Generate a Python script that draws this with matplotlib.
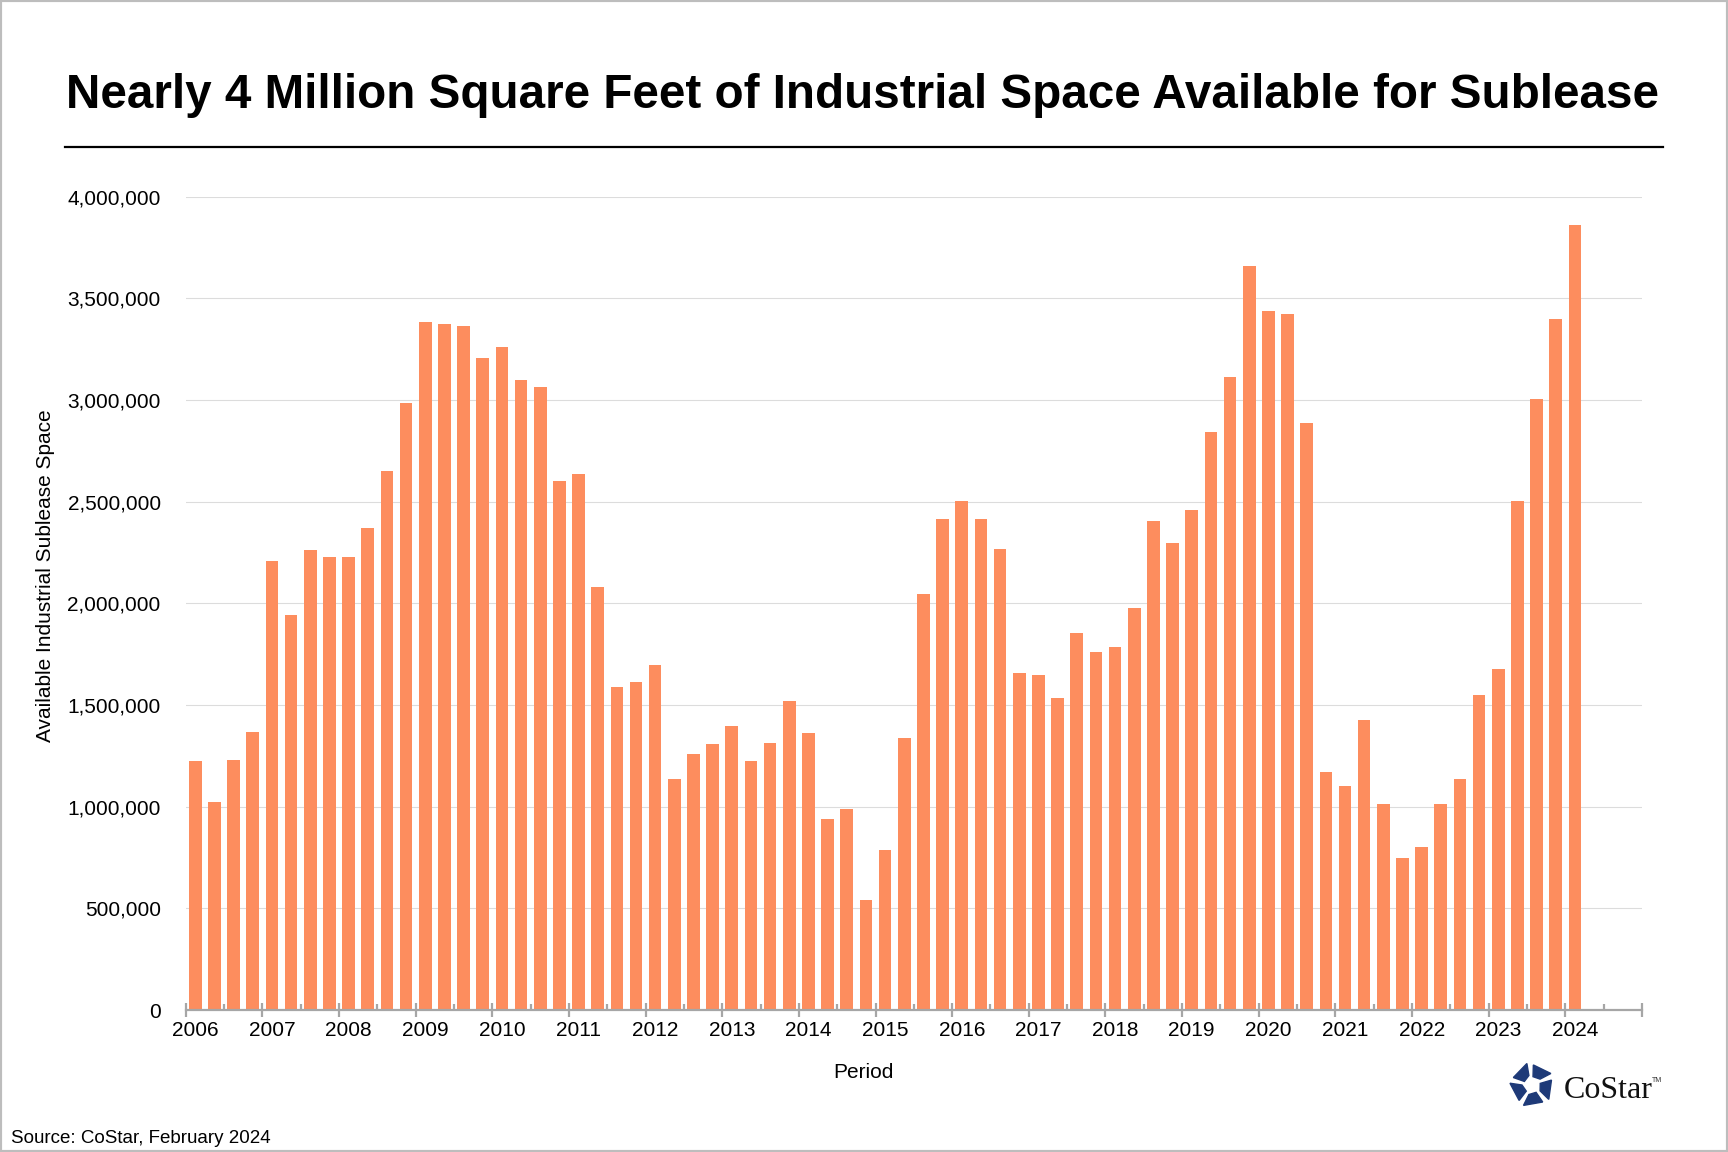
import matplotlib
matplotlib.use("Agg")
import matplotlib.pyplot as plt
from matplotlib.patches import Polygon, Rectangle
from matplotlib.lines import Line2D
from matplotlib.ticker import FuncFormatter, MultipleLocator
from matplotlib.transforms import ScaledTranslation
import numpy as np

plt.rcParams["font.family"] = ["Liberation Sans", "DejaVu Sans"]

# quarterly sublease availability, 2006 Q1 .. 2024 Q1
years = list(range(2006, 2025))
sublease_sf = [
    1227000, 1025000, 1232000, 1368000,
    2208000, 1944000, 2263000, 2230000,
    2230000, 2372000, 2650000, 2985000,
    3383000, 3372000, 3364000, 3206000,
    3260000, 3100000, 3064000, 2603000,
    2636000, 2080000, 1589000, 1614000,
    1698000, 1137000, 1257000, 1306000,
    1398000, 1227000, 1311000, 1521000,
    1363000, 940000, 987000, 542000,
    788000, 1336000, 2047000, 2415000,
    2502000, 2415000, 2268000, 1655000,
    1649000, 1535000, 1856000, 1761000,
    1783000, 1979000, 2404000, 2298000,
    2459000, 2843000, 3113000, 3658000,
    3437000, 3421000, 2887000, 1172000,
    1104000, 1428000, 1014000, 750000,
    804000, 1011000, 1137000, 1551000,
    1679000, 2502000, 3004000, 3397000,
    3860000,
]
periods = [(y, q) for y in years for q in range(4)][: len(sublease_sf)]

title = "Nearly 4 Million Square Feet of Industrial Space Available for Sublease"
bar_color = "#FD8D5E"
axis_gray = "#A6A6A6"

W, H = 1728, 1152
fig = plt.figure(figsize=(W / 100, H / 100), dpi=100)


def fx(px):
    return px / W


def fy(py):
    return 1 - py / H


ax = fig.add_axes([fx(185.7), fy(1010), fx(1642 - 185.7), (1010 - 196.7) / H])

# bars sit in the middle of their quarter
xs = [y + (q + 0.5) * 0.25 for y, q in periods]
ax.bar(xs, sublease_sf, width=0.165, color=bar_color, zorder=2)

ax.set_xlim(2006, 2025)
ax.set_ylim(0, 4000000)
ax.yaxis.set_major_locator(MultipleLocator(500000))
ax.yaxis.set_major_formatter(FuncFormatter(lambda v, _: f"{v:,.0f}"))
ax.grid(axis="y", color="#DCDCDC", linewidth=0.8, zorder=0)

ax.set_xticks(years + [2025])
ax.set_xticklabels([str(y) for y in years] + [""])
ax.xaxis.set_minor_locator(MultipleLocator(0.5))

for side in ["top", "right", "left"]:
    ax.spines[side].set_visible(False)
ax.spines["bottom"].set_color(axis_gray)
ax.spines["bottom"].set_linewidth(1.6)

ax.tick_params(axis="y", length=0, pad=18, labelsize=15, labelcolor="black")
ax.tick_params(axis="x", which="major", direction="inout", length=10, width=1.6,
               color=axis_gray, pad=3, labelsize=15)
ax.tick_params(axis="x", which="minor", direction="in", length=4, width=1.6,
               color=axis_gray)

# year labels line up with the first quarter bar
shift = ScaledTranslation(9.6 / 100, 0, fig.dpi_scale_trans)
for lab in ax.get_xticklabels():
    lab.set_transform(lab.get_transform() + shift)

fig.text(fx(862), fy(108), title, ha="center", va="baseline",
         fontsize=34.3, fontweight="bold")
fig.add_artist(Line2D([fx(65), fx(1663)], [fy(147), fy(147)],
                      color="black", linewidth=1.6))

fig.text(fx(46), fy(576), "Available Industrial Sublease Space", rotation=90,
         ha="center", va="center", fontsize=15)
fig.text(fx(863), fy(1072), "Period", ha="center", va="center", fontsize=15)
fig.text(fx(11), fy(1143), "Source: CoStar, February 2024", ha="left",
         va="baseline", fontsize=13.5)

# CoStar logo
lx, ly = 1532, 1085
lax = fig.add_axes([fx(lx - 30), fy(ly + 30), 60 / W, 60 / H])
lax.set_xlim(-1.5, 1.5)
lax.set_ylim(-1.5, 1.5)
lax.axis("off")
for i in range(5):
    a = np.deg2rad(100 + 72 * i)
    b = np.deg2rad(100 + 72 * (i + 1))
    v0 = 1.15 * np.array([np.cos(a), np.sin(a)])
    v1 = 1.15 * np.array([np.cos(b), np.sin(b)])
    p1 = v0 + 0.06 * (v1 - v0)
    p2 = v0 + 0.78 * (v1 - v0)
    c = np.deg2rad(100 + 72 * i + 55)
    p3 = 0.42 * np.array([np.cos(c), np.sin(c)])
    d = np.deg2rad(100 + 72 * i + 8)
    p4 = 0.5 * np.array([np.cos(d), np.sin(d)])
    lax.add_patch(Polygon([p1, p2, p3, p4], closed=True, color="#1E3A78"))
fig.text(fx(1564), fy(1098), "CoStar", family=["Liberation Serif", "DejaVu Serif"],
         fontsize=23, ha="left", va="baseline", color="#111111")
fig.text(fx(1652), fy(1082), "TM", fontsize=5, ha="left", va="baseline",
         color="#333333")

fig.add_artist(Rectangle((0, 0), 1, 1, transform=fig.transFigure, fill=False,
                         edgecolor="#BDBDBD", linewidth=3))

fig.savefig("out.png", dpi=100)
